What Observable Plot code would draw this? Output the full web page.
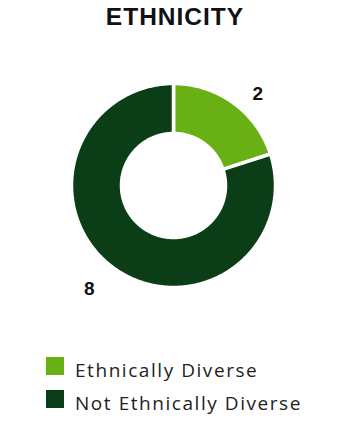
<!DOCTYPE html>
<html>
<head>
<meta charset="utf-8">
<script src="https://cdn.jsdelivr.net/npm/d3@7"></script>
<script src="https://cdn.jsdelivr.net/npm/@observablehq/plot@0.6"></script>
<style>
  html, body { margin: 0; padding: 0; background: #fff; }
  #wrap { position: relative; width: 348px; height: 430px; overflow: hidden; }
  #title { position: absolute; left: 0; top: 0; width: 348px; height: 34px; line-height: 34px;
    text-align: center; font-family: "Liberation Sans", Arial, sans-serif; font-weight: bold;
    font-size: 24.5px; letter-spacing: 1px; color: #111; padding-left: 1px; }
  #chart { position: absolute; left: 0; top: 34px; }
  #legend { position: absolute; left: 46px; top: 354px; font-family: "Open Sans", sans-serif;
    font-size: 19px; letter-spacing: 1.55px; color: #222; }
  .item { height: 33px; line-height: 33px; display: flex; align-items: flex-start; white-space: nowrap; }
  .sw { width: 18px; height: 18px; margin-top: 3px; margin-right: 11px; flex: none; }
</style>
</head>
<body>
<div id="wrap">
  <div id="title"></div>
  <div id="chart"></div>
  <div id="legend"></div>
</div>
<script>
const title = "ETHNICITY";
const categories = ["Ethnically Diverse", "Not Ethnically Diverse"];
const values = [2, 8];
const colors = ["#69b014", "#0b3d16"];

document.getElementById("title").textContent = title;

const outerR = 1.02, innerR = 0.52;
const arcs = d3.pie().sort(null).value(d => d)(values);

const pts = [];
arcs.forEach((a, i) => {
  const cat = categories[i];
  const n = Math.max(8, Math.ceil((a.endAngle - a.startAngle) / 0.01));
  const ring = [];
  for (let k = 0; k <= n; k++) {
    const t = a.startAngle + (a.endAngle - a.startAngle) * k / n;
    ring.push({x: outerR * Math.sin(t), y: outerR * Math.cos(t), cat});
  }
  for (let k = n; k >= 0; k--) {
    const t = a.startAngle + (a.endAngle - a.startAngle) * k / n;
    ring.push({x: innerR * Math.sin(t), y: innerR * Math.cos(t), cat});
  }
  ring.push({...ring[0]});
  pts.push(...ring);
});

const labelR = 1.29, labelRot = 0.083;
const labels = arcs.map((a, i) => {
  const m = (a.startAngle + a.endAngle) / 2 + labelRot;
  return {x: labelR * Math.sin(m), y: labelR * Math.cos(m), text: String(values[i])};
});

const plot = Plot.plot({
  width: 348,
  height: 300,
  margin: 0,
  x: {domain: [-1.73, 1.75], axis: null},
  y: {domain: [-1.49, 1.51], axis: null},
  color: {domain: categories, range: colors},
  style: {background: "transparent"},
  marks: [
    Plot.line(pts, {x: "x", y: "y", z: "cat", fill: "cat", stroke: "white", strokeWidth: 3.5, curve: "linear"}),
    Plot.text(labels, {x: "x", y: "y", text: "text", dy: 6, fontSize: 19, fontWeight: "bold",
      fontFamily: "Liberation Sans, Arial, sans-serif", fill: "#111"})
  ]
});
document.getElementById("chart").appendChild(plot);

const legend = document.getElementById("legend");
categories.forEach((c, i) => {
  const item = document.createElement("div");
  item.className = "item";
  const sw = document.createElement("span");
  sw.className = "sw";
  sw.style.background = colors[i];
  const tx = document.createElement("span");
  tx.textContent = c;
  item.appendChild(sw);
  item.appendChild(tx);
  legend.appendChild(item);
});
</script>
</body>
</html>
